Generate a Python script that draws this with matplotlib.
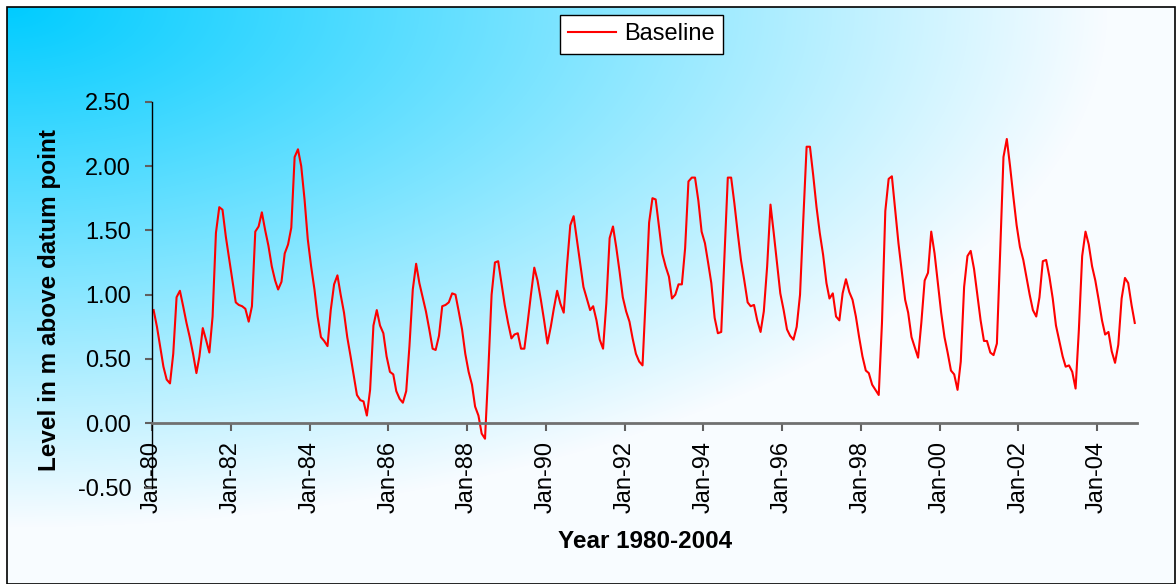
import numpy as np
import pandas as pd
import matplotlib
matplotlib.use("Agg")
import matplotlib.pyplot as plt
import matplotlib.dates as mdates
from matplotlib.patches import Rectangle
from matplotlib.ticker import FormatStrFormatter

# monthly levels (m above datum), Jan-80 .. Dec-04
levels_1980_84 = [
    0.88, 0.75, 0.60, 0.44, 0.34, 0.31, 0.54, 0.98, 1.03, 0.91, 0.78, 0.67,
    0.54, 0.39, 0.52, 0.74, 0.65, 0.55, 0.83, 1.48, 1.68, 1.66, 1.45, 1.28,
    1.11, 0.94, 0.92, 0.91, 0.89, 0.79, 0.91, 1.49, 1.53, 1.64, 1.50, 1.38,
    1.22, 1.11, 1.04, 1.10, 1.32, 1.39, 1.52, 2.07, 2.13, 2.00, 1.74, 1.43,
    1.22, 1.04, 0.83, 0.67, 0.64, 0.60, 0.88, 1.08, 1.15, 1.00, 0.86, 0.67,
]
levels_1985_89 = [
    0.52, 0.36, 0.22, 0.18, 0.17, 0.06, 0.26, 0.76, 0.88, 0.76, 0.70, 0.52,
    0.40, 0.38, 0.25, 0.19, 0.16, 0.25, 0.60, 1.04, 1.24, 1.09, 0.98, 0.87,
    0.73, 0.58, 0.57, 0.68, 0.91, 0.92, 0.94, 1.01, 1.00, 0.87, 0.73, 0.54,
    0.40, 0.30, 0.13, 0.06, -0.08, -0.12, 0.40, 1.00, 1.25, 1.26, 1.09, 0.92,
    0.78, 0.66, 0.69, 0.70, 0.58, 0.58, 0.78, 1.00, 1.21, 1.11, 0.96, 0.80,
]
levels_1990_94 = [
    0.62, 0.75, 0.89, 1.03, 0.93, 0.86, 1.22, 1.54, 1.61, 1.43, 1.24, 1.06,
    0.97, 0.88, 0.91, 0.80, 0.65, 0.58, 0.93, 1.44, 1.53, 1.37, 1.18, 0.98,
    0.87, 0.79, 0.66, 0.54, 0.48, 0.45, 0.98, 1.56, 1.75, 1.74, 1.53, 1.32,
    1.22, 1.14, 0.97, 1.00, 1.08, 1.08, 1.36, 1.88, 1.91, 1.91, 1.73, 1.49,
    1.40, 1.24, 1.09, 0.82, 0.70, 0.71, 1.30, 1.91, 1.91, 1.71, 1.48, 1.27,
]
levels_1995_99 = [
    1.11, 0.94, 0.91, 0.92, 0.80, 0.71, 0.87, 1.22, 1.70, 1.48, 1.24, 1.01,
    0.88, 0.73, 0.68, 0.65, 0.75, 1.00, 1.58, 2.15, 2.15, 1.93, 1.68, 1.48,
    1.31, 1.09, 0.97, 1.01, 0.83, 0.80, 1.01, 1.12, 1.02, 0.96, 0.83, 0.67,
    0.52, 0.41, 0.39, 0.30, 0.26, 0.22, 0.78, 1.65, 1.90, 1.92, 1.66, 1.40,
    1.18, 0.96, 0.86, 0.67, 0.59, 0.51, 0.78, 1.11, 1.17, 1.49, 1.32, 1.09,
]
levels_2000_04 = [
    0.86, 0.67, 0.55, 0.41, 0.38, 0.26, 0.48, 1.06, 1.30, 1.34, 1.20, 1.00,
    0.80, 0.64, 0.64, 0.55, 0.53, 0.62, 1.32, 2.07, 2.21, 2.00, 1.76, 1.54,
    1.37, 1.27, 1.14, 1.00, 0.88, 0.83, 0.98, 1.26, 1.27, 1.14, 0.97, 0.76,
    0.64, 0.52, 0.44, 0.45, 0.40, 0.27, 0.72, 1.30, 1.49, 1.39, 1.22, 1.11,
    0.96, 0.80, 0.69, 0.71, 0.56, 0.47, 0.61, 0.97, 1.13, 1.09, 0.92, 0.78,
]

series_label = "Baseline"
x_title = "Year 1980-2004"
y_title = "Level in m above datum point"
y_ticks = [-0.5, 0.0, 0.5, 1.0, 1.5, 2.0, 2.5]

levels = np.array(levels_1980_84 + levels_1985_89 + levels_1990_94
                  + levels_1995_99 + levels_2000_04)
# excel date axis puts each month in the middle of its slot
months = pd.date_range("1980-01-01", periods=len(levels), freq="MS") + pd.Timedelta(days=15)

W, H = 1176, 584
plt.rcParams['font.family'] = ['Liberation Sans', 'DejaVu Sans']
fig = plt.figure(figsize=(W / 100, H / 100), dpi=100)

# gradient background inside the chart border
bx, by, bw, bh = 7, 0, W - 8, H - 7
bg = fig.add_axes([bx / W, by / H, bw / W, bh / H])
bg.set_axis_off()
yy, xx = np.mgrid[0:bh, 0:bw]
t = np.clip(np.sqrt((xx / 1100.0) ** 2 + (yy / 520.0) ** 2), 0, 1)
c0 = np.array([0, 204, 255]) / 255.0
c1 = np.array([248, 252, 255]) / 255.0
bg.imshow(c0 + (c1 - c0) * t[..., None], aspect='auto', interpolation='bilinear')
fig.add_artist(Rectangle((bx / W, by / H), bw / W, bh / H, transform=fig.transFigure,
                         fill=False, edgecolor='black', linewidth=1.2))

ax = fig.add_axes([152 / W, 1 - 487.6 / H, 984.5 / W, 385.9 / H])
ax.patch.set_alpha(0)
line, = ax.plot(months, levels, color='red', linewidth=1.5, label=series_label)

ax.set_xlim(pd.Timestamp("1980-01-01"), pd.Timestamp("2005-01-01"))
ax.set_ylim(-0.5, 2.5)
ax.set_yticks(y_ticks)
ax.yaxis.set_major_formatter(FormatStrFormatter('%.2f'))
ax.xaxis.set_major_locator(mdates.YearLocator(2))
ax.xaxis.set_major_formatter(mdates.DateFormatter('%b-%y'))

for s in ['top', 'right']:
    ax.spines[s].set_visible(False)
ax.spines['left'].set_color('black')
ax.spines['left'].set_linewidth(1.0)
ax.spines['bottom'].set_position(('data', 0))
ax.spines['bottom'].set_color('#707070')
ax.spines['bottom'].set_linewidth(2.0)

ax.tick_params(axis='y', direction='out', length=5, width=1.5, color='#606060',
               labelsize=17, pad=10)
ax.tick_params(axis='x', direction='out', length=6, width=1.5, color='#606060',
               labelsize=17, pad=7, labelrotation=90)

fig.text(50 / W, 1 - 300 / H, y_title, rotation=90, ha='center', va='center',
         fontsize=17.5, fontweight='bold')
fig.text(645 / W, 1 - 542 / H, x_title, ha='center', va='center',
         fontsize=17.5, fontweight='bold')

leg = fig.legend(handles=[line], loc='center', bbox_to_anchor=(641.5 / W, 1 - 34.5 / H),
                 fontsize=17, frameon=True, fancybox=False, framealpha=1,
                 edgecolor='black', facecolor='white', handlelength=2.0,
                 handletextpad=0.35, borderpad=0.35)
leg.get_frame().set_linewidth(1.0)

fig.savefig('out.png', dpi=100)
